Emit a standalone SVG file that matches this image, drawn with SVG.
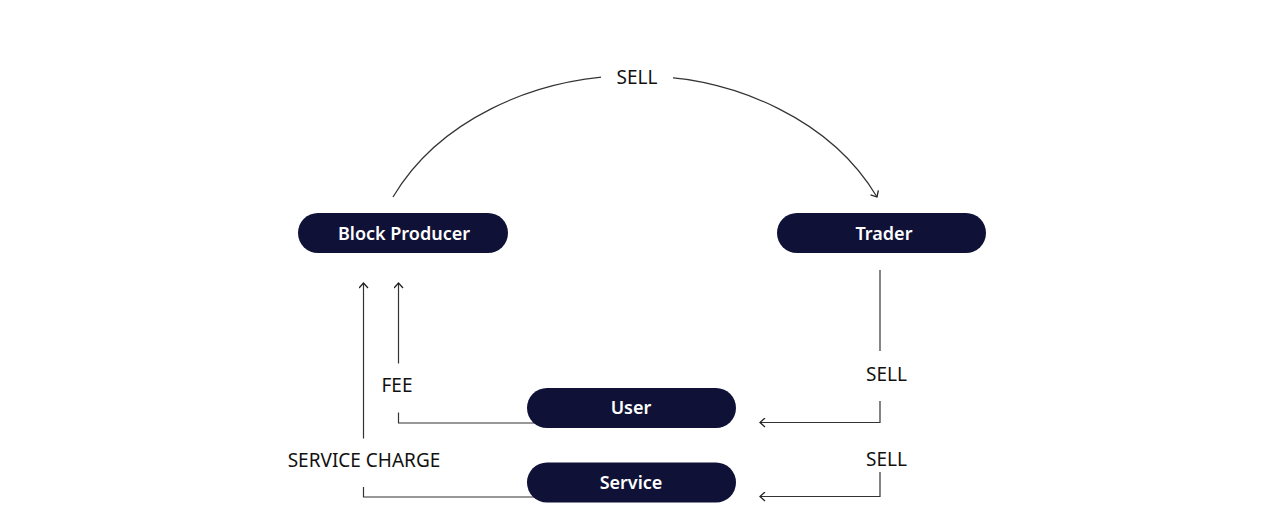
<svg xmlns="http://www.w3.org/2000/svg" width="1280" height="532" viewBox="0 0 1280 532">
  <style>
    .pill { fill: #0f1236; }
    .ntext { font-family: "Noto Sans", "Open Sans", sans-serif; font-weight: 600; font-size: 18px; fill: #ffffff; text-anchor: middle; }
    .lbl { font-family: "Noto Sans", "Open Sans", sans-serif; font-size: 19px; fill: #111111; text-anchor: middle; }
    .edge { fill: none; stroke: #333333; stroke-width: 1.2; }
  </style>
  <defs>
    <marker id="arr" viewBox="0 0 10 10" refX="9" refY="5" markerWidth="10" markerHeight="10" markerUnits="userSpaceOnUse" orient="auto">
      <path d="M4,0.5 L9,5 L4,9.5" fill="none" stroke="#222222" stroke-width="1.3"/>
    </marker>
  </defs>
  <rect width="1280" height="532" fill="#ffffff"/>

  <g id="connectors">
    <path class="edge" d="M393,197 A267,210 0 0 1 877,197" marker-end="url(#arr)"/>
    <rect x="601" y="58" width="72" height="34" fill="#ffffff"/>
    <text class="lbl" x="637" y="83.5">SELL</text>

    <path class="edge" d="M880,270 L880,351"/>
    <path class="edge" d="M880,401 L880,422.5 L760,422.5" marker-end="url(#arr)"/>
    <text class="lbl" x="886.5" y="380.5">SELL</text>

    <path class="edge" d="M880,472 L880,496.5 L760,496.5" marker-end="url(#arr)"/>
    <text class="lbl" x="886.5" y="466">SELL</text>

    <path class="edge" d="M545,423 L398.5,423 L398.5,412.5"/>
    <path class="edge" d="M398.5,363.5 L398.5,283" marker-end="url(#arr)"/>
    <text class="lbl" x="397" y="391.5">FEE</text>

    <path class="edge" d="M545,497 L363.5,497 L363.5,487"/>
    <path class="edge" d="M363.5,438.5 L363.5,283" marker-end="url(#arr)"/>
    <text class="lbl" x="364" y="466.5">SERVICE CHARGE</text>
  </g>

  <g id="block-producer">
    <rect class="pill" x="298" y="213" width="210" height="40" rx="20"/>
    <text class="ntext" x="404" y="239.5">Block Producer</text>
  </g>
  <g id="trader">
    <rect class="pill" x="777" y="213" width="209" height="40" rx="20"/>
    <text class="ntext" x="884" y="239.5">Trader</text>
  </g>
  <g id="user">
    <rect class="pill" x="527" y="388" width="209" height="40" rx="20"/>
    <text class="ntext" x="631" y="414">User</text>
  </g>
  <g id="service">
    <rect class="pill" x="527" y="462.5" width="209" height="40" rx="20"/>
    <text class="ntext" x="631" y="488.5">Service</text>
  </g>
</svg>
